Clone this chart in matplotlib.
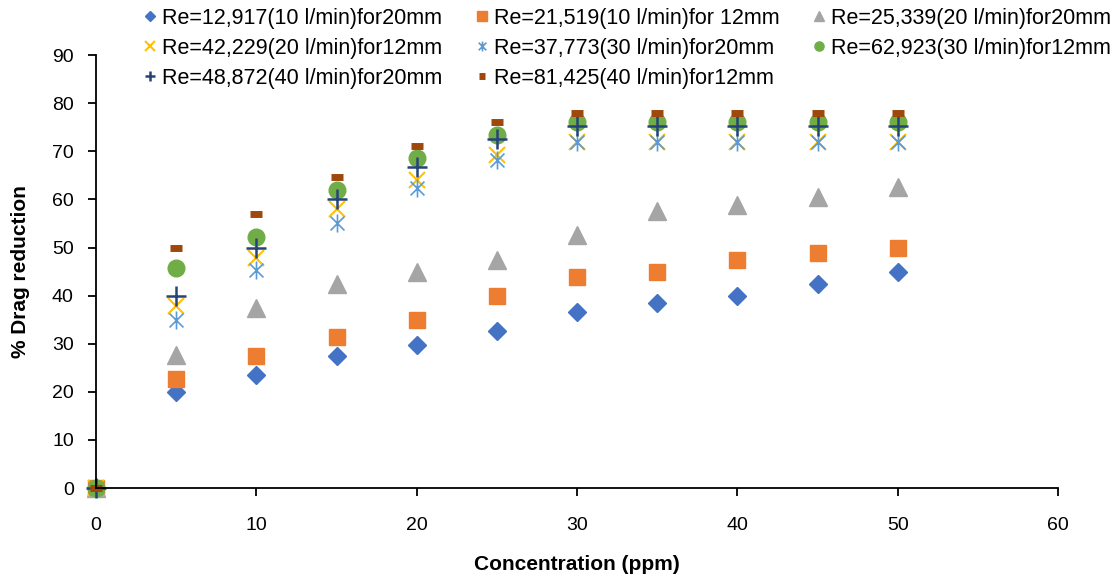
import matplotlib.pyplot as plt
from matplotlib.path import Path

plt.rcParams['font.family'] = ['Liberation Sans', 'DejaVu Sans']

# concentration (ppm)
conc = [0, 5, 10, 15, 20, 25, 30, 35, 40, 45, 50]

# % drag reduction for each run
re12917_20mm = [0, 20, 23.5, 27.5, 29.8, 32.7, 36.5, 38.4, 40, 42.5, 45]
re21519_12mm = [0, 22.6, 27.5, 31.3, 35, 40, 43.8, 45, 47.5, 48.8, 50]
re25339_20mm = [0, 27.6, 37.4, 42.4, 45, 47.4, 52.6, 57.6, 58.8, 60.4, 62.5]
re42229_12mm = [0, 37.8, 47.8, 58, 64, 69.2, 72, 72, 72, 72, 72]
re37773_20mm = [0, 35, 45.3, 55, 62.4, 68.2, 72, 72, 72, 72, 72]
re62923_12mm = [0, 45.8, 52.2, 62, 68.6, 73.4, 76, 76, 76, 76, 76]
re48872_20mm = [0, 40, 50, 60, 66.7, 72.5, 75.3, 75.3, 75.3, 75.3, 75.3]
re81425_12mm = [0, 50, 57, 64.7, 71.2, 76, 77.9, 77.9, 77.9, 77.9, 77.9]

labels = ["Re=12,917(10 l/min)for20mm", "Re=21,519(10 l/min)for 12mm",
          "Re=25,339(20 l/min)for20mm", "Re=42,229(20 l/min)for12mm",
          "Re=37,773(30 l/min)for20mm", "Re=62,923(30 l/min)for12mm",
          "Re=48,872(40 l/min)for20mm", "Re=81,425(40 l/min)for12mm"]

# asterisk marker: an x with a vertical bar through it
star = Path([(-1, -1), (1, 1), (-1, 1), (1, -1), (0, -1.3), (0, 1.3)],
            [Path.MOVETO, Path.LINETO, Path.MOVETO, Path.LINETO, Path.MOVETO, Path.LINETO])

fig = plt.figure(figsize=(11.19, 5.74), dpi=100)
ax = fig.add_axes([0.0858, 0.1498, 0.8597, 0.7542])

h = []
h += ax.plot(conc, re12917_20mm, 'D', color='#4472C4', ms=9, ls='none')
h += ax.plot(conc, re21519_12mm, 's', color='#ED7D31', ms=12, ls='none')
h += ax.plot(conc, re25339_20mm, '^', color='#A5A5A5', ms=13, ls='none')
h += ax.plot(conc, re42229_12mm, 'x', color='#FFC000', ms=12, mew=1.5, ls='none')
h += ax.plot(conc, re37773_20mm, marker=star, color='#5B9BD5', ms=13, mew=1.2, ls='none', fillstyle='none')
h += ax.plot(conc, re62923_12mm, 'o', color='#70AD47', ms=12, ls='none')
h += ax.plot(conc, re48872_20mm, '+', color='#264478', ms=14, mew=1.8, ls='none')
h += ax.plot(conc, re81425_12mm, '_', color='#9E480E', ms=8, mew=5, ls='none')

# reorder so the legend reads row by row
order = [0, 3, 6, 1, 4, 7, 2, 5]
fig.legend([h[i] for i in order], [labels[i] for i in order], ncol=3,
           loc='upper left', bbox_to_anchor=(0.112, 1.02), frameon=False,
           fontsize=15.5, handlelength=0.5, handletextpad=0.3, columnspacing=1.6,
           labelspacing=0.42, markerscale=0.55)

ax.set_xlim(0, 60)
ax.set_ylim(0, 90)
ax.set_xticks(range(0, 61, 10))
ax.set_yticks(range(0, 91, 10))
ax.spines['top'].set_visible(False)
ax.spines['right'].set_visible(False)
ax.spines['left'].set_linewidth(1.3)
ax.spines['bottom'].set_linewidth(1.3)
ax.tick_params(labelsize=14, length=6, width=1.3)
ax.tick_params(axis='x', pad=15)
ax.tick_params(axis='y', pad=10)
ax.set_xlabel("Concentration (ppm)", fontsize=15, fontweight='bold', labelpad=15)
ax.set_ylabel("% Drag reduction", fontsize=15, fontweight='bold', labelpad=16)
for s in ax.spines.values():
    s.set_clip_on(False)
for l in ax.lines:
    l.set_clip_on(False)

fig.savefig("out.png", dpi=100)
